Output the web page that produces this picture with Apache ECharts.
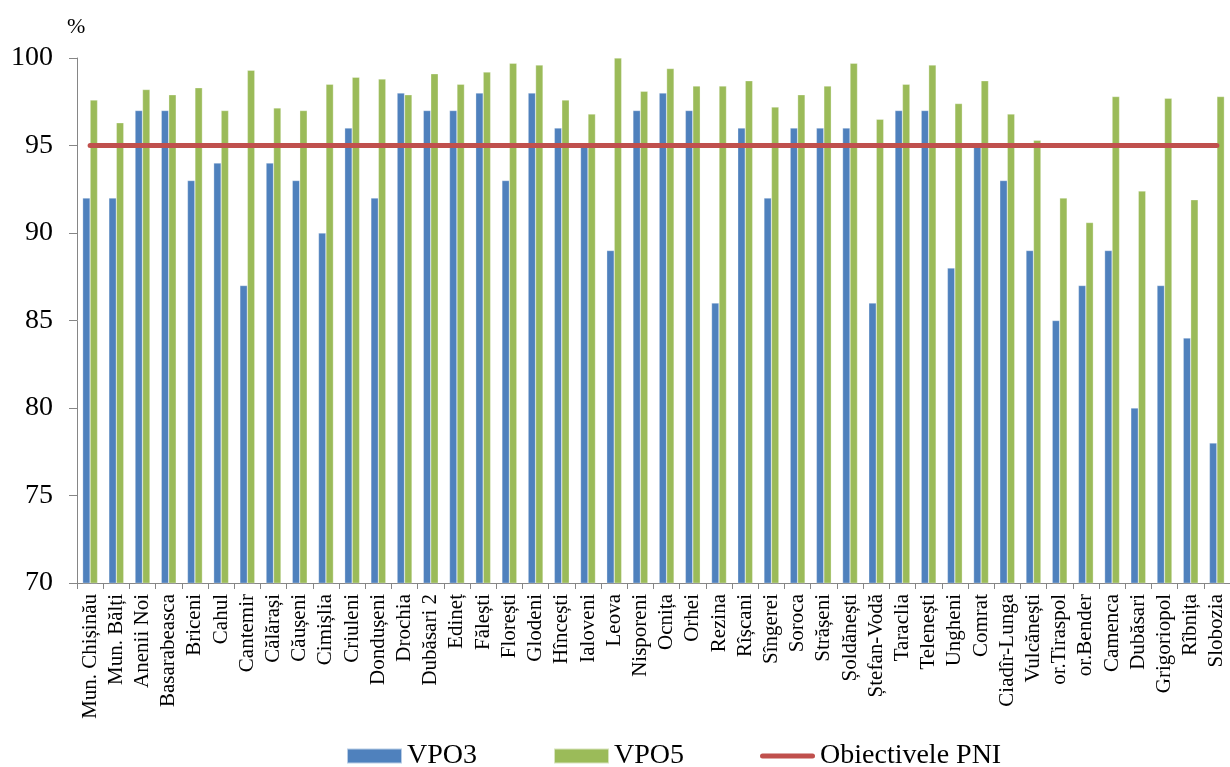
<!DOCTYPE html>
<html>
<head>
<meta charset="utf-8">
<script src="https://cdn.jsdelivr.net/npm/echarts@6/dist/echarts.min.js"></script>
<style>
html,body{margin:0;padding:0;background:#fff;}
#chart{width:1230px;height:767px;}
</style>
</head>
<body>
<div id="chart"></div>
<script>
var categories = ["Mun. Chișinău","Mun. Bălți","Anenii Noi","Basarabeasca","Briceni","Cahul","Cantemir","Călărași","Căușeni","Cimișlia","Criuleni","Dondușeni","Drochia","Dubăsari 2","Edineț","Fălești","Florești","Glodeni","Hîncești","Ialoveni","Leova","Nisporeni","Ocnița","Orhei","Rezina","Rîșcani","Sîngerei","Soroca","Strășeni","Șoldănești","Ștefan-Vodă","Taraclia","Telenești","Ungheni","Comrat","Ciadîr-Lunga","Vulcănești","or.Tiraspol","or.Bender","Camenca","Dubăsari","Grigoriopol","Rîbnița","Slobozia"];
var vpo3 = [92,92,97,97,93,94,87,94,93,90,96,92,98,97,97,98,93,98,96,95,89,97,98,97,86,96,92,96,96,96,86,97,97,88,95,93,89,85,87,89,80,87,84,78];
var vpo5 = [97.6,96.3,98.2,97.9,98.3,97.0,99.3,97.15,97.0,98.5,98.9,98.8,97.9,99.1,98.5,99.2,99.7,99.6,97.6,96.8,100,98.1,99.4,98.4,98.4,98.7,97.2,97.9,98.4,99.7,96.5,98.5,99.6,97.4,98.7,96.8,95.3,92.0,90.6,97.8,92.4,97.7,91.9,97.8];
var targetValue = 95;
var target = categories.map(function(){ return targetValue; });
var yTicks = [70,75,80,85,90,95,100];
var seriesNames = ["VPO3","VPO5","Obiectivele PNI"];

var FONT = "'Liberation Serif','Times New Roman',serif";
var chart = echarts.init(document.getElementById('chart'), null, {renderer:'canvas'});
chart.setOption({
  backgroundColor:'#ffffff',
  animation:false,
  title:{text:'%', left:62, top:11, textStyle:{fontFamily:FONT, fontSize:22, fontWeight:'normal', color:'#000'}},
  legend:{
    data:[
      {name:seriesNames[0], icon:'rect'},
      {name:seriesNames[1], icon:'rect'},
      {name:seriesNames[2], icon:'path://M2.5,0 H52.5 A2.5,2.5 0 0 1 52.5,5 H2.5 A2.5,2.5 0 0 1 2.5,0 Z', itemStyle:{color:'#C0504D'}}
    ],
    left:341, top:737, itemWidth:55, itemHeight:15, itemGap:76,
    textStyle:{fontFamily:FONT, fontSize:28, color:'#000'}
  },
  grid:{left:77, right:-9, top:58, bottom:184, containLabel:false},
  xAxis:{
    type:'category', data:categories, boundaryGap:true,
    axisLine:{lineStyle:{color:'#868686', width:1}},
    axisTick:{show:true, alignWithLabel:false, length:6, lineStyle:{color:'#868686'}},
    axisLabel:{interval:0, rotate:90, margin:11, fontFamily:FONT, fontSize:21, color:'#000'},
    splitLine:{show:false}
  },
  yAxis:{
    type:'value', min:yTicks[0], max:yTicks[yTicks.length-1], interval:5,
    axisLine:{show:true, lineStyle:{color:'#868686', width:1}},
    axisTick:{show:true, length:8, lineStyle:{color:'#868686'}},
    axisLabel:{margin:24, fontFamily:FONT, fontSize:28, color:'#000'},
    splitLine:{show:false}
  },
  series:[
    {name:seriesNames[0], type:'bar', data:vpo3, barGap:'0%', barCategoryGap:'43%',
     itemStyle:{color:'#4F81BD', borderColor:'rgba(255,255,255,0.6)', borderWidth:0.5}},
    {name:seriesNames[1], type:'bar', data:vpo5, barGap:'0%', barCategoryGap:'43%',
     itemStyle:{color:'#9BBB59', borderColor:'rgba(255,255,255,0.6)', borderWidth:0.5}},
    {name:seriesNames[2], type:'line', data:target, symbol:'none', showSymbol:false,
     lineStyle:{color:'#C0504D', width:5, cap:'round'}, itemStyle:{color:'#C0504D'}, z:5}
  ]
});
</script>
</body>
</html>
